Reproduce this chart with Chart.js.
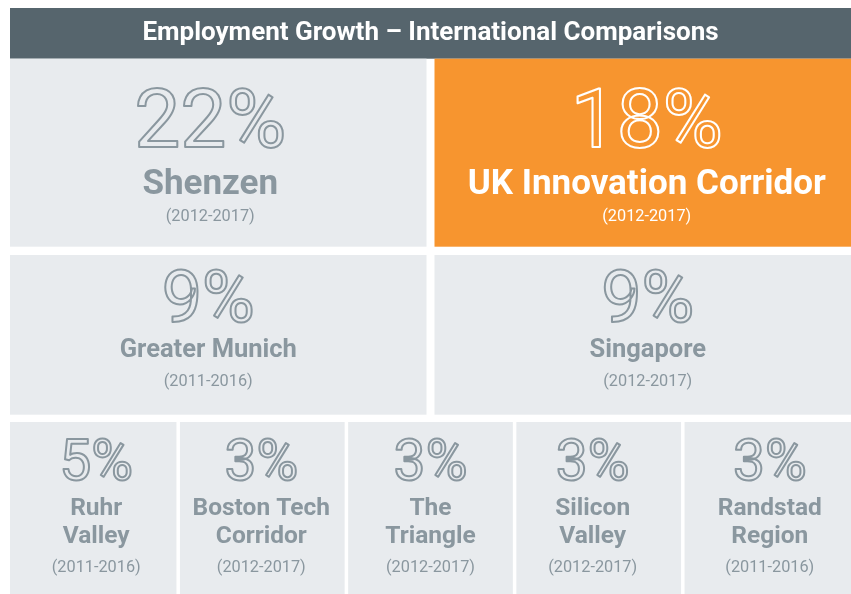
<!DOCTYPE html>
<html lang="en">
<head>
    <meta charset="UTF-8">
    <title>Employment Growth – International Comparisons</title>
    <script src="https://cdn.jsdelivr.net/npm/chart.js@4"></script>
    <style>
        html, body { margin: 0; padding: 0; background: #ffffff; }
        canvas { display: block; }
    </style>
</head>
<body>
    <canvas id="growthChart" width="851" height="594"></canvas>

    <script>
        const chartTitle = 'Employment Growth – International Comparisons';
        const regions = ['Shenzen', 'UK Innovation Corridor', 'Greater Munich', 'Singapore',
            'Ruhr\nValley', 'Boston Tech\nCorridor', 'The\nTriangle', 'Silicon\nValley', 'Randstad\nRegion'];
        const growth = [22, 18, 9, 9, 5, 3, 3, 3, 3];
        const periods = ['2012-2017', '2012-2017', '2011-2016', '2012-2017',
            '2011-2016', '2012-2017', '2012-2017', '2012-2017', '2011-2016'];
        const highlight = 'UK Innovation Corridor';

        // layout: x runs 0..10 across the panel, y 0..535 down from the title bar
        const rows = [
            { top: 0,     bottom: 188,   gap: 8,   num: 82, name: 35,   lineH: 0,  numY: 88,   nameY: 135, periodY: 162.7 },
            { top: 196.3, bottom: 356,   gap: 8,   num: 72, name: 25.5, lineH: 0,  numY: 66.7, nameY: 102, periodY: 130.5 },
            { top: 363.3, bottom: 535.3, gap: 3.5, num: 57, name: 24.5, lineH: 28, numY: 58,   nameY: 93,  periodY: 149.5 }
        ];
        const cells = [
            { row: 0, x0: 0, x1: 5,  dx: -8 }, { row: 0, x0: 5, x1: 10, dx: 4 },
            { row: 1, x0: 0, x1: 5,  dx: -10 }, { row: 1, x0: 5, x1: 10, dx: 5 },
            { row: 2, x0: 0, x1: 2,  dx: 3 },  { row: 2, x0: 2, x1: 4,  dx: -1 },
            { row: 2, x0: 4, x1: 6,  dx: 0 },  { row: 2, x0: 6, x1: 8,  dx: -6 },
            { row: 2, x0: 8, x1: 10, dx: 2 }
        ];

        const GREY_TILE = '#e8ebee';
        const ORANGE = '#f7952f';
        const INK = '#8a979f';

        const tilePlugin = {
            id: 'tiles',
            beforeDraw(chart) {
                // dark band behind the title
                const t = chart.titleBlock;
                const ctx = chart.ctx;
                ctx.save();
                ctx.fillStyle = '#56656d';
                ctx.fillRect(t.left, t.top, t.right - t.left, t.bottom - t.top);
                ctx.restore();
            },
            afterDraw(chart) {
                const { ctx, scales: { x, y } } = chart;
                ctx.save();
                cells.forEach((c, i) => {
                    const r = rows[c.row];
                    let left = x.getPixelForValue(c.x0);
                    let right = x.getPixelForValue(c.x1);
                    if (c.x0 > 0) left += r.gap / 2;
                    if (c.x1 < 10) right -= r.gap / 2;
                    const top = y.getPixelForValue(r.top);
                    const bottom = y.getPixelForValue(r.bottom);
                    const hot = regions[i] === highlight;

                    ctx.fillStyle = hot ? ORANGE : GREY_TILE;
                    ctx.fillRect(left, top, right - left, bottom - top);

                    const cx = (left + right) / 2 + c.dx;
                    const ink = hot ? '#ffffff' : INK;
                    ctx.textAlign = 'center';
                    ctx.textBaseline = 'alphabetic';

                    // outlined figure
                    ctx.font = '400 ' + r.num + 'px Roboto';
                    ctx.lineWidth = 2;
                    ctx.lineJoin = 'round';
                    ctx.strokeStyle = ink;
                    ctx.strokeText(growth[i] + '%', cx, top + r.numY);

                    ctx.fillStyle = ink;
                    ctx.font = '700 ' + r.name + 'px Roboto';
                    regions[i].split('\n').forEach((line, k) => {
                        ctx.fillText(line, cx, top + r.nameY + k * r.lineH);
                    });

                    ctx.font = '400 16.3px Roboto';
                    ctx.fillText('(' + periods[i] + ')', cx, top + r.periodY);
                });
                ctx.restore();
            }
        };

        function drawChart() {
            Chart.defaults.font.family = 'Roboto';
            new Chart(document.getElementById('growthChart'), {
                type: 'scatter',
                data: { datasets: [] },
                options: {
                    responsive: false,
                    animation: false,
                    layout: { padding: { left: 10, top: 8, right: 0, bottom: 0 } },
                    scales: {
                        x: { type: 'linear', min: 0, max: 10, display: false },
                        y: { type: 'linear', min: 0, max: 535.3, reverse: true, display: false }
                    },
                    plugins: {
                        legend: { display: false },
                        tooltip: { enabled: false },
                        title: {
                            display: true,
                            text: chartTitle,
                            color: '#ffffff',
                            font: { family: 'Roboto', size: 26, weight: 'bold', lineHeight: 1.2 },
                            padding: { top: 10.2, bottom: 9.3 }
                        }
                    }
                },
                plugins: [tilePlugin]
            });
        }

        Promise.all([
            document.fonts.load('400 20px Roboto'),
            document.fonts.load('700 20px Roboto')
        ]).then(drawChart, drawChart);
    </script>
</body>
</html>
